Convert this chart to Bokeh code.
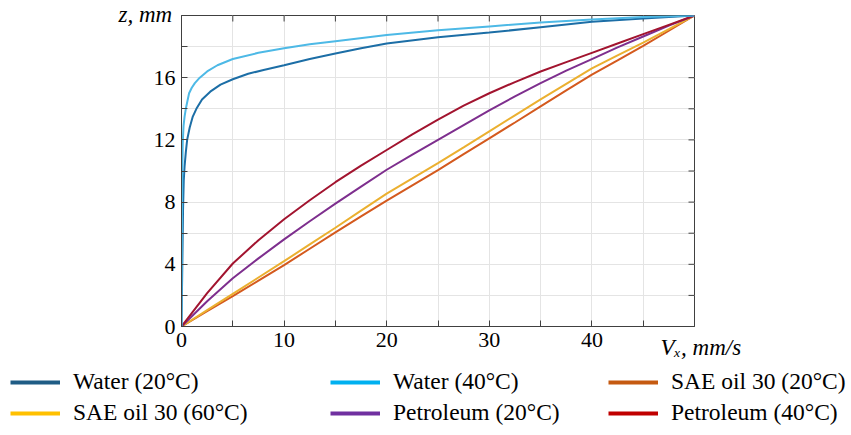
import math
from bokeh.plotting import figure
from bokeh.layouts import column
from bokeh.models import FixedTicker, Legend, LegendItem, Range1d, Title
from bokeh.embed import file_html
from bokeh.resources import INLINE

# ---------------- data ----------------
vx_water20 = [0, 0.08, 0.15, 0.22, 0.3, 0.42, 0.55, 0.8, 1.1, 1.45, 2.0, 2.8, 3.8, 5, 6.5, 8, 10, 12.5, 15, 17.5, 20, 25, 30, 35, 40, 45, 50]
z_water20 = [0, 4, 7.5, 9.4, 10.3, 11.2, 12.0, 12.8, 13.5, 14.0, 14.6, 15.1, 15.55, 15.9, 16.25, 16.5, 16.8, 17.2, 17.55, 17.9, 18.2, 18.6, 18.9, 19.25, 19.6, 19.8, 20]

vx_water40 = [0, 0.04, 0.08, 0.12, 0.2, 0.3, 0.42, 0.58, 0.74, 1.0, 1.3, 1.78, 2.5, 3.5, 5, 7.5, 10, 12.5, 15, 20, 25, 30, 35, 40, 45, 50]
z_water40 = [0, 6, 10, 11.8, 12.9, 13.5, 14.0, 14.5, 15.0, 15.35, 15.65, 16.0, 16.4, 16.8, 17.2, 17.6, 17.9, 18.15, 18.35, 18.75, 19.05, 19.3, 19.55, 19.75, 19.9, 20]

vx_oil = [0, 2.5, 5, 7.5, 10, 12.5, 15, 17.5, 20, 22.5, 25, 27.5, 30, 32.5, 35, 37.5, 40, 42.5, 45, 47.5, 50]
z_sae20 = [0, 0.98, 1.95, 2.95, 3.95, 5.0, 6.05, 7.08, 8.1, 9.08, 10.05, 11.08, 12.1, 13.12, 14.15, 15.18, 16.2, 17.12, 18.05, 19.02, 20]
z_sae60 = [0, 1.05, 2.1, 3.15, 4.2, 5.28, 6.35, 7.45, 8.55, 9.52, 10.5, 11.52, 12.55, 13.58, 14.6, 15.6, 16.6, 17.43, 18.25, 19.12, 20]
z_pet20 = [0, 1.62, 3.1, 4.38, 5.6, 6.77, 7.9, 9.0, 10.08, 11.05, 12.0, 12.95, 13.9, 14.8, 15.65, 16.45, 17.2, 17.95, 18.65, 19.35, 20]
z_pet40 = [0, 2.15, 4.05, 5.55, 6.9, 8.12, 9.28, 10.35, 11.35, 12.35, 13.3, 14.2, 15.0, 15.72, 16.4, 17.0, 17.6, 18.2, 18.8, 19.4, 20]

series_names = ["Water (20°C)", "Water (40°C)", "SAE oil 30 (20°C)",
                "SAE oil 30 (60°C)", "Petroleum (20°C)", "Petroleum (40°C)"]
line_colors = ["#1c6ea6", "#4db9e6", "#d45a1e", "#ebb030", "#7e2f8e", "#a2142f"]
legend_colors = ["#1f5c85", "#00b0f0", "#c55a11", "#ffc000", "#7030a0", "#c00000"]

x_labels = [0, 10, 20, 30, 40]
x_minor = [5, 15, 25, 35, 45, 50]
y_labels = [0, 4, 8, 12, 16]
y_minor = [2, 6, 10, 14, 18, 20]
x_grid = [0, 5, 10, 15, 20, 25, 30, 35, 40, 45, 50]
y_grid = [0, 2, 4, 6, 8, 10, 12, 14, 16, 18, 20]
x_max, y_max = 50, 20
y_title = "z, mm"
x_title = "Vₓ, mm/s"

FONT = "Liberation Serif"
AX = "#404040"

p = figure(width=845, height=360, x_range=Range1d(0, x_max), y_range=Range1d(0, y_max),
           output_backend="svg", toolbar_location=None,
           min_border_left=181, min_border_right=151, min_border_top=15, min_border_bottom=34)
p.background_fill_color = "white"
p.border_fill_color = "white"
p.outline_line_color = AX
p.outline_line_width = 1

# grid
p.xgrid.ticker = FixedTicker(ticks=x_grid)
p.ygrid.ticker = FixedTicker(ticks=y_grid)
for g in (p.xgrid[0], p.ygrid[0]):
    g.grid_line_color = "#e4e4e4"
    g.grid_line_width = 1

def style_axis(ax):
    ax.axis_line_color = AX
    ax.major_tick_line_color = AX
    ax.minor_tick_line_color = AX
    ax.major_tick_in = 6
    ax.major_tick_out = 0
    ax.minor_tick_in = 6
    ax.minor_tick_out = 0
    ax.major_label_text_font = FONT
    ax.major_label_text_color = "black"
    ax.major_label_text_font_size = "22px"
    ax.major_label_standoff = 6

xa = p.xaxis[0]
xa.ticker = FixedTicker(ticks=x_labels, minor_ticks=x_minor)
style_axis(xa)
ya = p.yaxis[0]
ya.ticker = FixedTicker(ticks=y_labels, minor_ticks=y_minor)
style_axis(ya)

# inward ticks on the top and right edges of the box
p.ray(x=x_grid, y=[y_max] * len(x_grid), length=6, length_units="screen",
      angle=-math.pi / 2, line_color=AX, line_width=1)
p.ray(x=[x_max] * len(y_grid), y=y_grid, length=6, length_units="screen",
      angle=math.pi, line_color=AX, line_width=1)

# curves
xs = [vx_water20, vx_water40, vx_oil, vx_oil, vx_oil, vx_oil]
zs = [z_water20, z_water40, z_sae20, z_sae60, z_pet20, z_pet40]
order = [2, 3, 4, 5, 0, 1]
for i in order:
    p.line(xs[i], zs[i], line_color=line_colors[i], line_width=2)

# axis titles (as titles in the side panels, so they are not clipped)
p.add_layout(Title(text=y_title, align="left", vertical_align="bottom", offset=-63,
                   standoff=-23, text_font=FONT, text_font_style="italic",
                   text_font_size="23px", text_color="black"), "above")
p.add_layout(Title(text=x_title, align="left", vertical_align="top", offset=479,
                   standoff=-30, text_font=FONT, text_font_style="italic",
                   text_font_size="23px", text_color="black"), "below")

# legend figure below the chart (its own frame spans the full width)
lf = figure(width=850, height=70, x_range=Range1d(0, 1), y_range=Range1d(0, 1),
            output_backend="svg", toolbar_location=None,
            x_axis_location=None, y_axis_location=None,
            min_border_left=0, min_border_right=0, min_border_top=0, min_border_bottom=0)
lf.grid.visible = False
lf.outline_line_color = None
lf.border_fill_color = "white"
try:
    lf.frame_align = False
    p.frame_align = False
except Exception:
    pass

items = []
for i, name in enumerate(series_names):
    r = lf.line(xs[i], zs[i], line_color=legend_colors[i], line_width=4, visible=False)
    items.append(LegendItem(label=name, renderers=[r]))

cols = [[0, 3], [1, 4], [2, 5]]
col_x = [10, 330, 608]
for cx, idx in zip(col_x, cols):
    lg = Legend(items=[items[k] for k in idx], location=(cx, 4),
                orientation="vertical", padding=0, margin=0, spacing=4,
                glyph_width=50, glyph_height=26, label_height=26,
                label_standoff=13, border_line_color=None,
                background_fill_alpha=0, inactive_fill_alpha=0,
                label_text_font=FONT, label_text_font_size="23.5px",
                label_text_color="black")
    lf.add_layout(lg)

layout = column(p, lf, spacing=0)
open("out.html", "w").write(file_html(layout, INLINE))
